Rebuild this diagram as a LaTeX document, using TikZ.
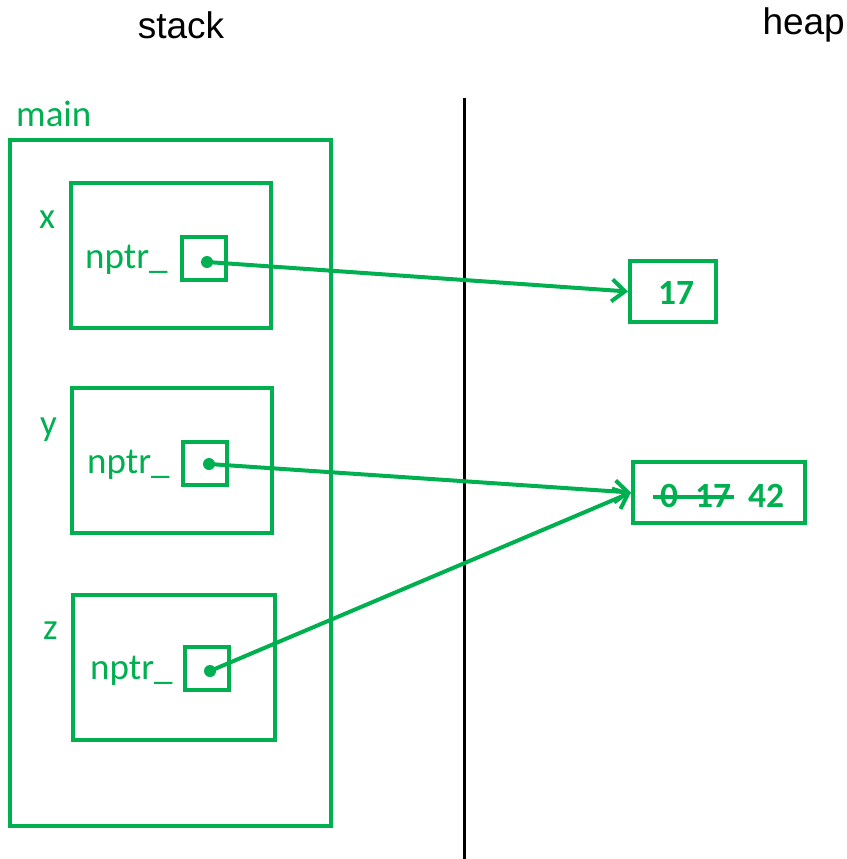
\documentclass[tikz,border=0pt]{standalone}
\usepackage{fontspec}
\setmainfont{Carlito}
\newfontfamily\arialfont{Liberation Sans}
\usetikzlibrary{arrows.meta}
\definecolor{ptrgreen}{RGB}{0,176,80}

\begin{document}
\begin{tikzpicture}[x=1pt, y=-1pt,
	frame box/.style={draw=ptrgreen,line width=4pt,rectangle,inner sep=0pt},
	cell box/.style={frame box,minimum width=44pt,minimum height=43pt},
	green text/.style={text=ptrgreen,font=\fontsize{37}{42}\selectfont,inner sep=0pt,anchor=base west},
	heap text/.style={text=ptrgreen,font=\fontsize{35.5}{40}\selectfont\bfseries,inner sep=0pt,anchor=base west},
	side text/.style={font=\arialfont\fontsize{37}{42}\selectfont,inner sep=0pt},
	ptr/.style={draw=ptrgreen,line width=4pt,-{Straight Barb[length=13pt,width=22pt,line width=4pt]}}]
	\useasboundingbox (0,0) rectangle (846,859);

	\node[side text] (stack) at (181,25) {stack};
	\node[side text,anchor=east] (heap) at (845,25) {heap};
	\coordinate (divtop) at (464,98);
	\coordinate (divbot) at (464,859);
	\draw[line width=3pt] (divtop) -- (divbot);

	% stack frame
	\node[frame box,minimum width=321pt,minimum height=686pt] (main) at (170.5,483) {};
	\node[green text] (mainlbl) at (16,126) {main};

	\node[frame box,minimum width=200pt,minimum height=145pt] (x) at (171,255.5) {};
	\node[frame box,minimum width=200pt,minimum height=145pt] (y) at (172,460.5) {};
	\node[frame box,minimum width=202pt,minimum height=145pt] (z) at (174,667.5) {};
	\node[green text] (xlbl) at (39,228) {x};
	\node[green text] (ylbl) at (40,435) {y};
	\node[green text] (zlbl) at (43,639) {z};

	\node[cell box] (xc) at (204,258.5) {};
	\node[cell box] (yc) at (205,463.5) {};
	\node[cell box] (zc) at (207,668.5) {};
	\node[green text] (xn) at (85,268) {nptr\_};
	\node[green text] (yn) at (87,473) {nptr\_};
	\node[green text] (zn) at (90,679) {nptr\_};

	% heap objects
	\node[frame box,minimum width=86pt,minimum height=61pt] (h1) at (673,291.5) {};
	\node[heap text] (v1) at (658,304) {17};
	\node[frame box,minimum width=172pt,minimum height=61pt] (h2) at (719,492.5) {};
	\node[heap text] (old0) at (660,507) {0};
	\node[heap text] (old17) at (695,507) {17};
	\node[heap text] (v2) at (748,507) {42};
	\coordinate (strikeL) at (653,497);
	\coordinate (strikeR) at (734,497);
	\draw[ptrgreen,line width=3.5pt] (strikeL) -- (strikeR);

	\fill[ptrgreen] (207,262) circle (6pt) coordinate (xd);
	\fill[ptrgreen] (209,464) circle (6pt) coordinate (yd);
	\fill[ptrgreen] (210,671) circle (6pt) coordinate (zd);
	\draw[ptr] (xd) -- (h1.west);
	\draw[ptr] (yd) -- (h2.west);
	\draw[ptr] (zd) -- (h2.west);
\end{tikzpicture}
\end{document}
